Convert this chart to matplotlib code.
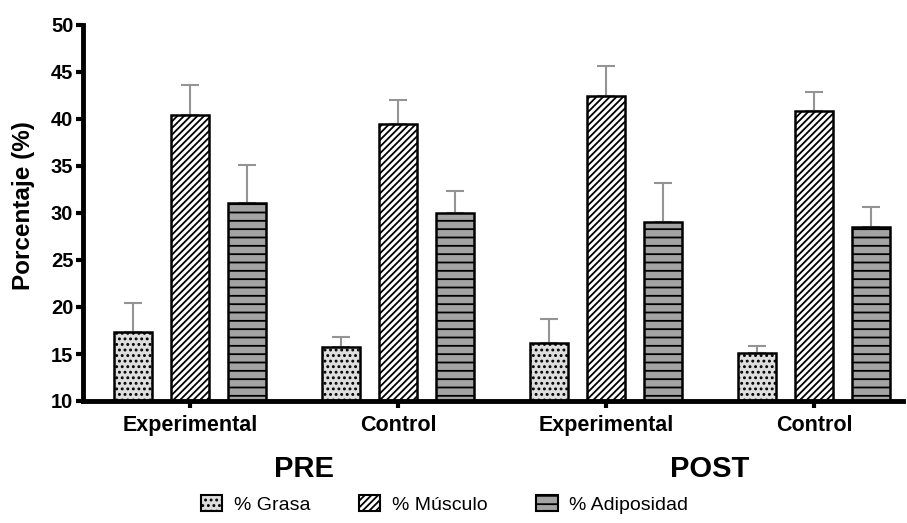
import matplotlib
matplotlib.use("Agg")
import matplotlib.pyplot as plt
import numpy as np
from matplotlib.patches import Patch

plt.rcParams['font.family'] = ['Liberation Sans', 'DejaVu Sans']
plt.rcParams['hatch.linewidth'] = 1.3

groups = ["Experimental", "Control", "Experimental", "Control"]
phases = ["PRE", "POST"]
series_names = ["% Grasa", "% Músculo", "% Adiposidad"]

grasa = [17.3, 15.7, 16.2, 15.1]
grasa_err = [3.1, 1.1, 2.5, 0.8]
musculo = [40.4, 39.5, 42.4, 40.8]
musculo_err = [3.2, 2.5, 3.2, 2.1]
adiposidad = [31.1, 30.0, 29.0, 28.5]
adiposidad_err = [4.0, 2.3, 4.2, 2.1]

values = [grasa, musculo, adiposidad]
errors = [grasa_err, musculo_err, adiposidad_err]
fills = ["#dedede", "#ffffff", "#a3a3a3"]
hatches = ["...", "/////", "--"]

fig = plt.figure(figsize=(9.07, 5.23), dpi=100)
ax = fig.add_axes([83 / 907, (523 - 401) / 523, (903 - 83) / 907, (401 - 25) / 523])

x = np.arange(len(groups))
width = 0.183
offsets = [-0.274, 0.0, 0.274]

for vals, errs, fc, h, off in zip(values, errors, fills, hatches, offsets):
    pos = x + off
    ax.errorbar(pos, vals, yerr=[np.zeros(len(errs)), errs], fmt="none",
                ecolor="#949494", elinewidth=1.5, capsize=6.5, capthick=1.5, zorder=1)
    ax.bar(pos, [v - 10 for v in vals], bottom=10, width=width, color=fc,
           edgecolor="black", linewidth=1.8, hatch=h, zorder=2)

ax.set_ylim(10, 50)
ax.set_xlim(-0.514, 3.428)
ax.set_yticks(np.arange(10, 51, 5))
ax.set_xticks(x)
ax.set_xticklabels(groups, fontsize=15.5, fontweight="bold")
for lbl in ax.get_yticklabels():
    lbl.set_fontsize(14.5)
    lbl.set_fontweight("bold")
ax.tick_params(axis="y", length=5, width=3, pad=2)
ax.tick_params(axis="x", length=5, width=3, pad=5)
ax.set_ylabel("Porcentaje (%)", fontsize=17.5, fontweight="bold")
ax.yaxis.set_label_coords(-0.058, 0.52)

for side in ("top", "right"):
    ax.spines[side].set_visible(False)
for side in ("left", "bottom"):
    ax.spines[side].set_linewidth(3.5)

# Phase labels centred beneath each pair of groups
for i, ph in enumerate(phases):
    xc = 2 * i + 0.5 + (0.05 if i == 0 else 0.0)
    ax.text(xc, -0.18, ph, transform=ax.get_xaxis_transform(), ha="center",
            va="center", fontsize=21, fontweight="bold")

handles = [Patch(facecolor=fc, edgecolor="black", hatch=h, linewidth=1.5)
           for fc, h in zip(fills, hatches)]
fig.legend(handles, series_names, loc="center", bbox_to_anchor=(0.49, 0.035),
           ncol=3, frameon=False, fontsize=14, handlelength=1.1, handleheight=0.9,
           columnspacing=2.5, handletextpad=0.6)

fig.savefig("out.png", dpi=100)
